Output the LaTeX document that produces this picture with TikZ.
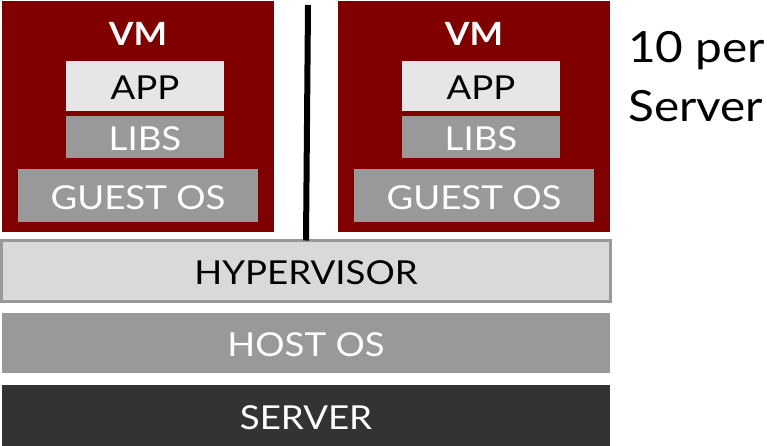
\documentclass[tikz,border=0pt]{standalone}
\usepackage{fontspec}
\setmainfont[FakeStretch=1.11]{Lato}
\definecolor{vmred}{HTML}{800000}
\definecolor{applight}{HTML}{E6E6E6}
\definecolor{midgray}{HTML}{999999}
\definecolor{hypfill}{HTML}{D9D9D9}
\definecolor{srvdark}{HTML}{333333}
\begin{document}
\begin{tikzpicture}[x=1pt,y=-1pt,
  box/.style={rectangle, inner sep=0pt, outer sep=0pt, text height=27pt, text depth=0pt, font=\fontsize{33}{33}\selectfont},
  vmbox/.style={rectangle, inner sep=0pt, outer sep=0pt, fill=vmred, minimum width=272pt, minimum height=231pt},
  appbox/.style={box, fill=applight, text=black, minimum width=158pt, minimum height=50pt},
  libbox/.style={box, fill=midgray, text=white, minimum width=158pt, minimum height=42pt},
  osbox/.style={box, fill=midgray, text=white, minimum width=240pt, minimum height=53pt},
  vmlabel/.style={text=white, inner sep=0pt, font=\fontsize{32}{32}\selectfont\bfseries},
  sidelabel/.style={inner sep=0pt, anchor=base west, font=\fontsize{43}{43}\selectfont}
]
\useasboundingbox[fill=white] (0,0) rectangle (767,446);
% VM 1
\node[vmbox] (vm1) at (138,116.5) {};
\node[vmlabel] (vm1t) at (138,33.5) {VM};
\node[appbox] (app1) at (145,86) {APP};
\node[libbox] (lib1) at (145,137) {LIBS};
\node[osbox] (os1) at (138,195.5) {GUEST OS};
% VM 2
\node[vmbox] (vm2) at (474,116.5) {};
\node[vmlabel] (vm2t) at (474,33.5) {VM};
\node[appbox] (app2) at (481,86) {APP};
\node[libbox] (lib2) at (481,137) {LIBS};
\node[osbox] (os2) at (474,195.5) {GUEST OS};
% layers
\node[box, draw=midgray, line width=3pt, fill=hypfill, text=black, minimum width=609pt, minimum height=61pt] (hyp) at (306,271) {HYPERVISOR};
\node[box, fill=midgray, text=white, minimum width=608pt, minimum height=60pt] (host) at (306,343) {HOST OS};
\node[box, fill=srvdark, text=white, minimum width=608pt, minimum height=61pt] (srv) at (306,415.5) {SERVER};
% divider
\coordinate (ltop) at (308,5);
\draw[line width=6pt] (ltop) -- (hyp.north);
% side text
\node[sidelabel] (s1) at (628,63) {10 per};
\node[sidelabel] (s2) at (628,122) {Server};
\end{tikzpicture}
\end{document}
